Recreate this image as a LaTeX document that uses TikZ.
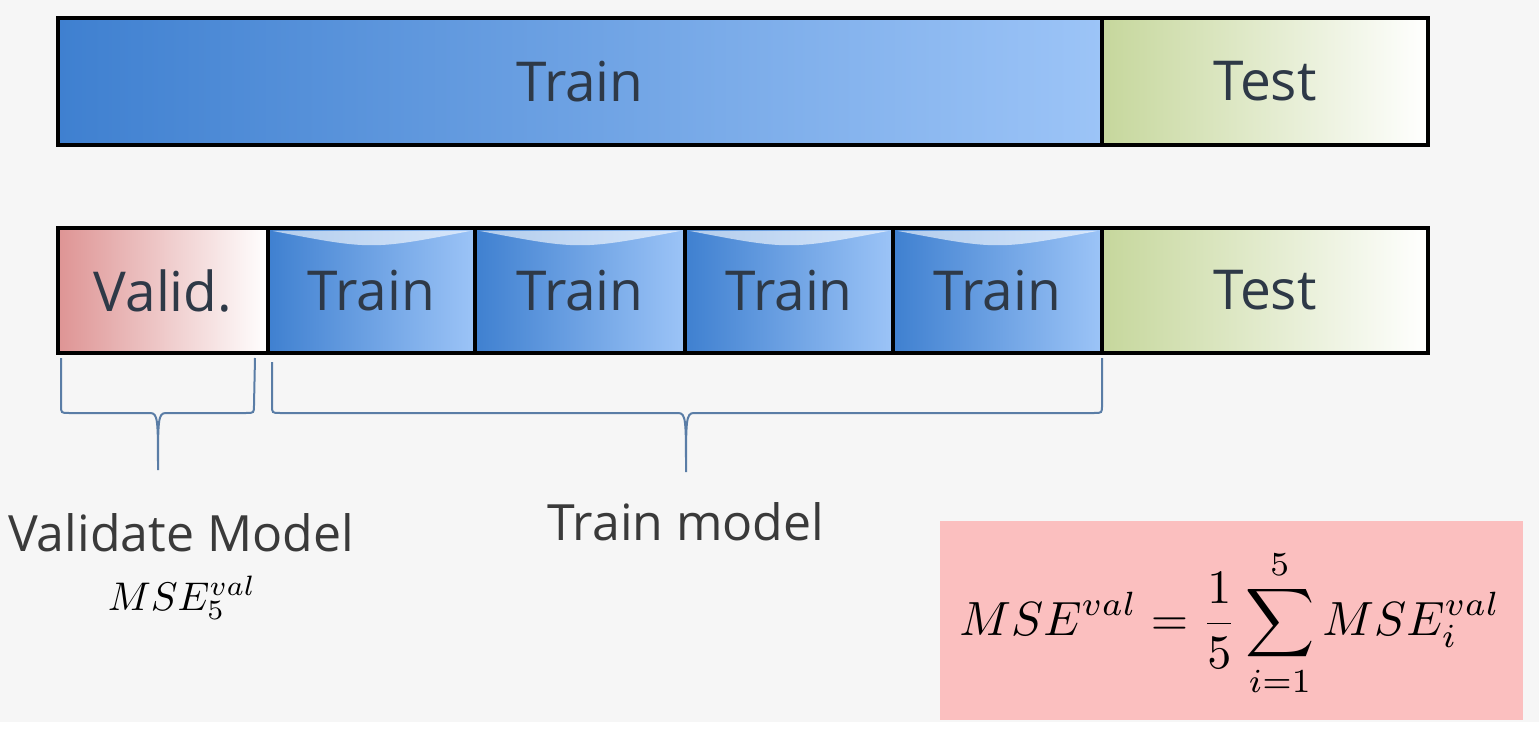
\documentclass[tikz,border=0pt]{standalone}
\usepackage{fontspec}
\setsansfont{Open Sans}
\definecolor{bgc}{HTML}{F6F6F6}
\definecolor{blueL}{HTML}{3F80D0}
\definecolor{blueR}{HTML}{9CC4F7}
\definecolor{greenL}{HTML}{C6D79C}
\definecolor{redL}{HTML}{DE9494}
\definecolor{pinkC}{HTML}{FBBFBF}
\definecolor{braceC}{HTML}{5A7DA6}
\definecolor{labelC}{HTML}{2E3947}
\definecolor{textC}{HTML}{3A3A3A}
\begin{document}
\begin{tikzpicture}[x=1pt,y=-1pt,
  box/.style={draw=black, line width=4.5pt, inner sep=0pt, text=labelC,
    font=\sffamily\fontsize{55}{62}\selectfont},
  trainbox/.style={box, left color=blueL, right color=blueR},
  testbox/.style={box, left color=greenL, right color=white},
  validbox/.style={box, left color=redL, right color=white},
  brace/.style={draw=braceC, line width=2pt},
  lbl/.style={inner sep=0pt, text=textC, font=\sffamily\fontsize{50}{58}\selectfont},
  mathlbl/.style={inner sep=0pt, text=black, scale=4.0},
  shine/.style={fill=white, opacity=0.6, draw=none}
]
\fill[bgc] (0,0) rectangle (1539,722);
\fill[white] (0,722) rectangle (1539,735);
\useasboundingbox (0,0) rectangle (1539,735);

% top row
\node[trainbox, minimum width=1044pt, minimum height=127pt] (tr) at (580,81.5) {Train};
\node[testbox, minimum width=326pt, minimum height=127pt] (te) at (1265,81.5) {Test};

% second row
\node[validbox, minimum width=210pt, minimum height=125pt] (va) at (163,290.5) {Valid.};
\node[trainbox, minimum width=207pt, minimum height=125pt] (t1) at (371.5,290.5) {Train};
\node[trainbox, minimum width=210pt, minimum height=125pt] (t2) at (580,290.5) {Train};
\node[trainbox, minimum width=208pt, minimum height=125pt] (t3) at (789,290.5) {Train};
\node[trainbox, minimum width=209pt, minimum height=125pt] (t4) at (997.5,290.5) {Train};
\node[testbox, minimum width=326pt, minimum height=125pt] (te2) at (1265,290.5) {Test};

% top highlights of the train blocks
\foreach \a/\b in {273/470, 480/680, 690/888, 898/1097}{
  \fill[shine] (\a,231) .. controls ({(\a+\b)/2},250) .. (\b,231) -- cycle;
}

% braces
\coordinate (tipv) at (158,470);
\coordinate (tipt) at (686,472);
\draw[brace] (61,358) -- (61,405) .. controls (61,413) .. (69,413) -- (150,413)
  .. controls (158,413) and (158,420) .. (tipv)
  .. controls (158,420) and (158,413) .. (166,413) -- (246,413)
  .. controls (254,413) .. (254,405) -- (255,358);
\draw[brace] (272,362) -- (272,405) .. controls (272,413) .. (280,413) -- (678,413)
  .. controls (686,413) and (686,420) .. (tipt)
  .. controls (686,420) and (686,413) .. (694,413) -- (1094,413)
  .. controls (1102,413) .. (1102,405) -- (1102,358);

% labels
\node[lbl] (vm) at (181,533) {Validate Model};
\node[mathlbl] (mse5) at (182,598) {$MSE_5^{val}$};
\node[lbl] (tm) at (686,522) {Train model};

% formula box
\node[fill=pinkC, minimum width=583pt, minimum height=199pt, inner sep=0pt] (fb) at (1231.5,620.5) {};
\node[inner sep=0pt, scale=4.8] (fm) at (1230,623)
  {$\displaystyle MSE^{val} = \frac{1}{5}\sum_{i=1}^{5} MSE_i^{val}$};
\end{tikzpicture}
\end{document}
